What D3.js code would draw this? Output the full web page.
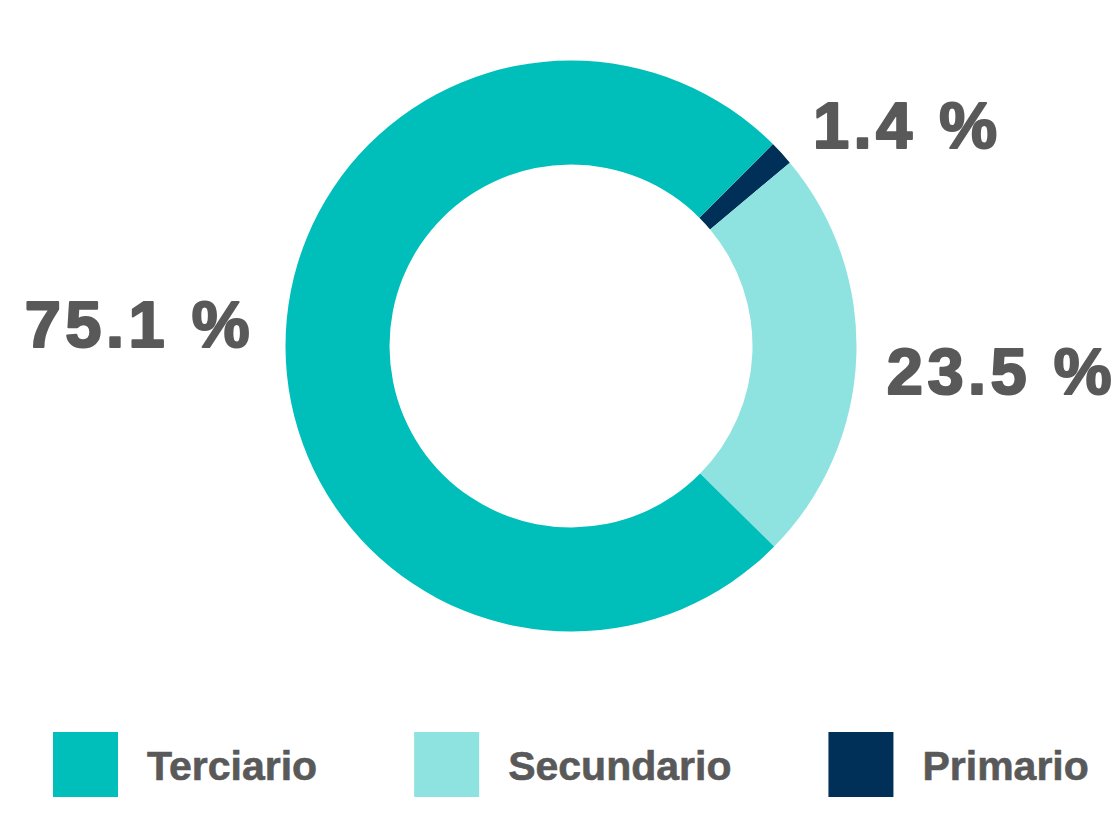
<!DOCTYPE html>
<html>
<head>
<meta charset="utf-8">
<script src="https://cdn.jsdelivr.net/npm/d3@7"></script>
<style>
    html, body { margin: 0; padding: 0; background: #fff; overflow: hidden; }
    text { font-family: "Liberation Sans", Arial, sans-serif; font-weight: bold; fill: #595959; }
</style>
</head>
<body>
<div id="chart"></div>
<script>
// Datos del gráfico
const categories = ["Terciario", "Secundario", "Primario"];
const values = [75.1, 23.5, 1.4];
const labels = ["75.1 %", "23.5 %", "1.4 %"];
const colors = ["#00bfba", "#8ee2e0", "#003057"];

const width = 1115, height = 829;
const cx = 571, cy = 346;
const outerR = 285.5, innerR = 181.5;

// Ajustes de posición de etiquetas (radio y desplazamiento vertical)
const labelR = { "Terciario": 317, "Secundario": 316, "Primario": 328 };
const labelDy = { "Terciario": -23, "Secundario": 12, "Primario": 0 };

const svg = d3.select("#chart")
    .append("svg")
    .attr("width", width)
    .attr("height", height);

const g = svg.append("g")
    .attr("transform", `translate(${cx},${cy})`);

const rows = categories.map((c, i) => ({ cat: c, value: values[i], label: labels[i], color: colors[i] }));

// El sector primario empieza a 45° y sigue en sentido horario
const pie = d3.pie()
    .sort(null)
    .value(d => d.value)
    .startAngle(Math.PI / 4)
    .endAngle(Math.PI / 4 + 2 * Math.PI);

const arcs = pie(rows.slice().reverse());

const arc = d3.arc()
    .innerRadius(innerR)
    .outerRadius(outerR);

g.selectAll("path.slice")
    .data(arcs)
    .enter()
    .append("path")
    .attr("class", "slice")
    .attr("d", arc)
    .attr("fill", d => d.data.color);

// Etiquetas de porcentaje
g.selectAll("text.pct")
    .data(arcs)
    .enter()
    .append("text")
    .attr("class", "pct")
    .attr("x", d => {
        const a = (d.startAngle + d.endAngle) / 2;
        return Math.sin(a) * labelR[d.data.cat];
    })
    .attr("y", d => {
        const a = (d.startAngle + d.endAngle) / 2;
        return -Math.cos(a) * labelR[d.data.cat] + labelDy[d.data.cat];
    })
    .attr("dy", "0.36em")
    .attr("text-anchor", d => {
        const a = (d.startAngle + d.endAngle) / 2 % (2 * Math.PI);
        return a < Math.PI ? "start" : "end";
    })
    .style("font-size", "65px")
    .style("letter-spacing", "4.5px")
    .style("stroke", "#595959")
    .style("stroke-width", "2.2px")
    .style("stroke-linejoin", "round")
    .text(d => d.data.label);

// Leyenda
const legend = svg.append("g")
    .attr("transform", "translate(53,732)");

let xPos = 0;
rows.forEach(d => {
    const item = legend.append("g").attr("transform", `translate(${xPos},0)`);
    item.append("rect")
        .attr("width", 65)
        .attr("height", 65)
        .attr("fill", d.color);
    const t = item.append("text")
        .attr("x", 94)
        .attr("y", 48)
        .style("font-size", "41px")
        .style("stroke", "#595959")
        .style("stroke-width", "0.6px")
        .text(d.cat);
    xPos += 94 + t.node().getComputedTextLength() + 97;
});
</script>
</body>
</html>
